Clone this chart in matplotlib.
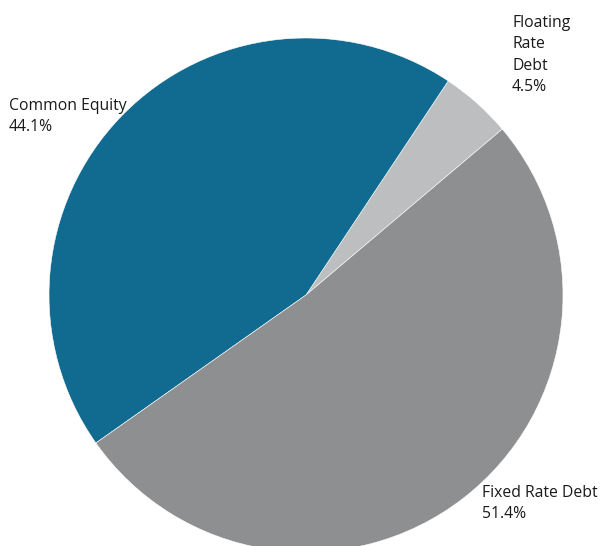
import matplotlib.pyplot as plt

# slices listed counterclockwise from the start angle
labels = ['Floating\nRate\nDebt', 'Common Equity', 'Fixed Rate Debt']
shares = [4.5, 44.1, 51.4]
colors = ['#BDBEC0', '#116A8F', '#8E8F91']

plt.rcParams['font.family'] = ['Open Sans', 'DejaVu Sans']

fig = plt.figure(figsize=(6.05, 5.46), dpi=100)
# pie centre sits near (306, 295) px, radius ~257 px, bottom runs off the image
ax = fig.add_axes([49 / 605, -6 / 546, 514 / 605, 514 / 546])
ax.pie(shares, colors=colors, startangle=40.2, counterclock=True,
       radius=1, wedgeprops={'edgecolor': 'white', 'linewidth': 0.4})
ax.set_xlim(-1, 1)
ax.set_ylim(-1, 1)
ax.set_aspect('equal')
ax.axis('off')

# label text boxes, placed like the original
label_pos = [(512 / 605, 1 - 15 / 546), (9 / 605, 1 - 98 / 546), (482 / 605, 1 - 485 / 546)]
for lab, val, (x, y) in zip(labels, shares, label_pos):
    fig.text(x, y, f'{lab}\n{val}%', ha='left', va='top', fontsize=11.3,
             linespacing=1.45, color='#1a1a1a')

fig.savefig('out.png', dpi=100)
